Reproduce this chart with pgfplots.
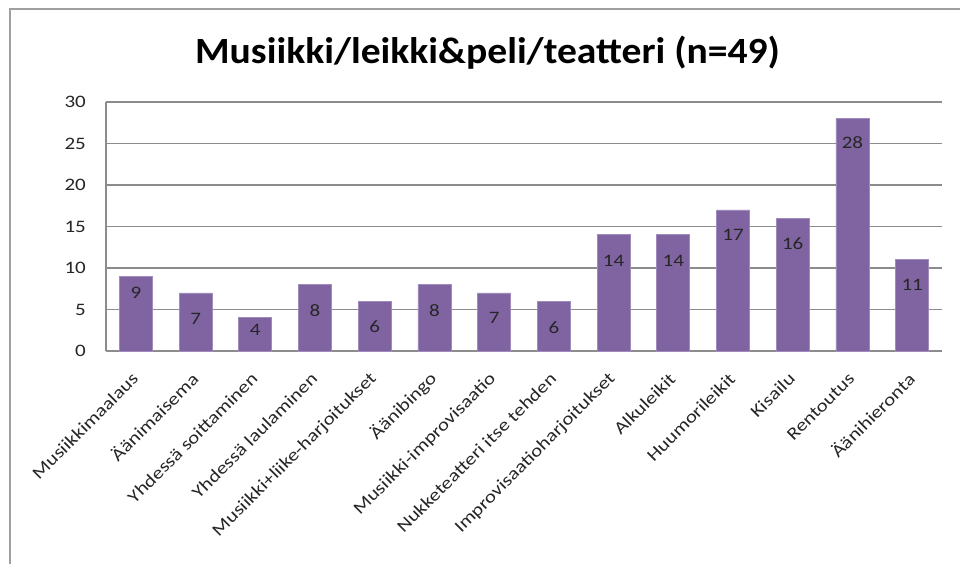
\documentclass[border=0pt]{standalone}
\usepackage{fontspec}
\setmainfont{Carlito}[FakeStretch=1.2]
\newfontfamily\titlefont{Carlito}[FakeStretch=1.07]
\usepackage{pgfplots}
\usepackage{pgfplotstable}
\pgfplotsset{compat=1.18}
\definecolor{barPurple}{HTML}{8064A2}
\definecolor{barEdge}{HTML}{A08CBC}
\definecolor{gridGray}{HTML}{8C8C8C}
\definecolor{frameGray}{HTML}{A0A0A0}

% idx, count, label offset below bar top (px)
\pgfplotstableread{
idx val off
0  9  17
1  7  26
2  4  12
3  8  26
4  6  25
5  8  26
6  7  25
7  6  26
8  14 26
9  14 26
10 17 25
11 16 25
12 28 24
13 11 25
}\counts

\begin{document}
\begin{tikzpicture}
\path[use as bounding box, fill=white] (0pt,0pt) rectangle (960pt,563pt);
\draw[frameGray, line width=2pt] (10pt,-5pt) -- (10pt,554pt) -- (965pt,554pt);
\node[font=\titlefont\fontsize{37}{44}\selectfont\bfseries, anchor=base, inner sep=0pt]
  at (487.5pt,499pt) {Musiikki/leikki\&peli/teatteri (n=49)};
\begin{axis}[
  at={(106pt,212pt)}, anchor=south west,
  scale only axis, width=836pt, height=249pt,
  xmin=-0.5, xmax=13.5, ymin=0, ymax=30,
  ytick={0,5,...,30},
  xtick=data,
  xticklabels={Musiikkimaalaus, Äänimaisema, Yhdessä soittaminen,
    Yhdessä laulaminen, Musiikki+liike-harjoitukset, Äänibingo,
    Musiikki-improvisaatio, Nukketeatteri itse tehden,
    Improvisaatioharjoitukset, Alkuleikit, Huumorileikit, Kisailu,
    Rentoutus, Äänihieronta},
  ymajorgrids, grid style={gridGray, line width=1.2pt},
  axis x line*=bottom, axis y line*=left,
  axis line style={gridGray, line width=1.2pt},
  major tick length=0pt,
  /pgf/number format/assume math mode=true,
  tick label style={font=\fontsize{17.5}{20}\selectfont, text=black!85},
  yticklabel style={anchor=east, inner sep=0pt, xshift=-20pt},
  xticklabel style={rotate=45, anchor=east, inner sep=0pt, yshift=-17pt, xshift=-18pt},
  ybar, bar width=33pt,
  nodes near coords,
  visualization depends on={\thisrow{off} \as \labeloff},
  every node near coord/.append style={font=\fontsize{17.5}{20}\selectfont,
    text=black!85, anchor=center, yshift=-\labeloff pt},
]
\addplot[fill=barPurple, draw=barEdge, line width=0.8pt] table[x=idx, y=val] {\counts};
\end{axis}
\end{tikzpicture}
\end{document}
